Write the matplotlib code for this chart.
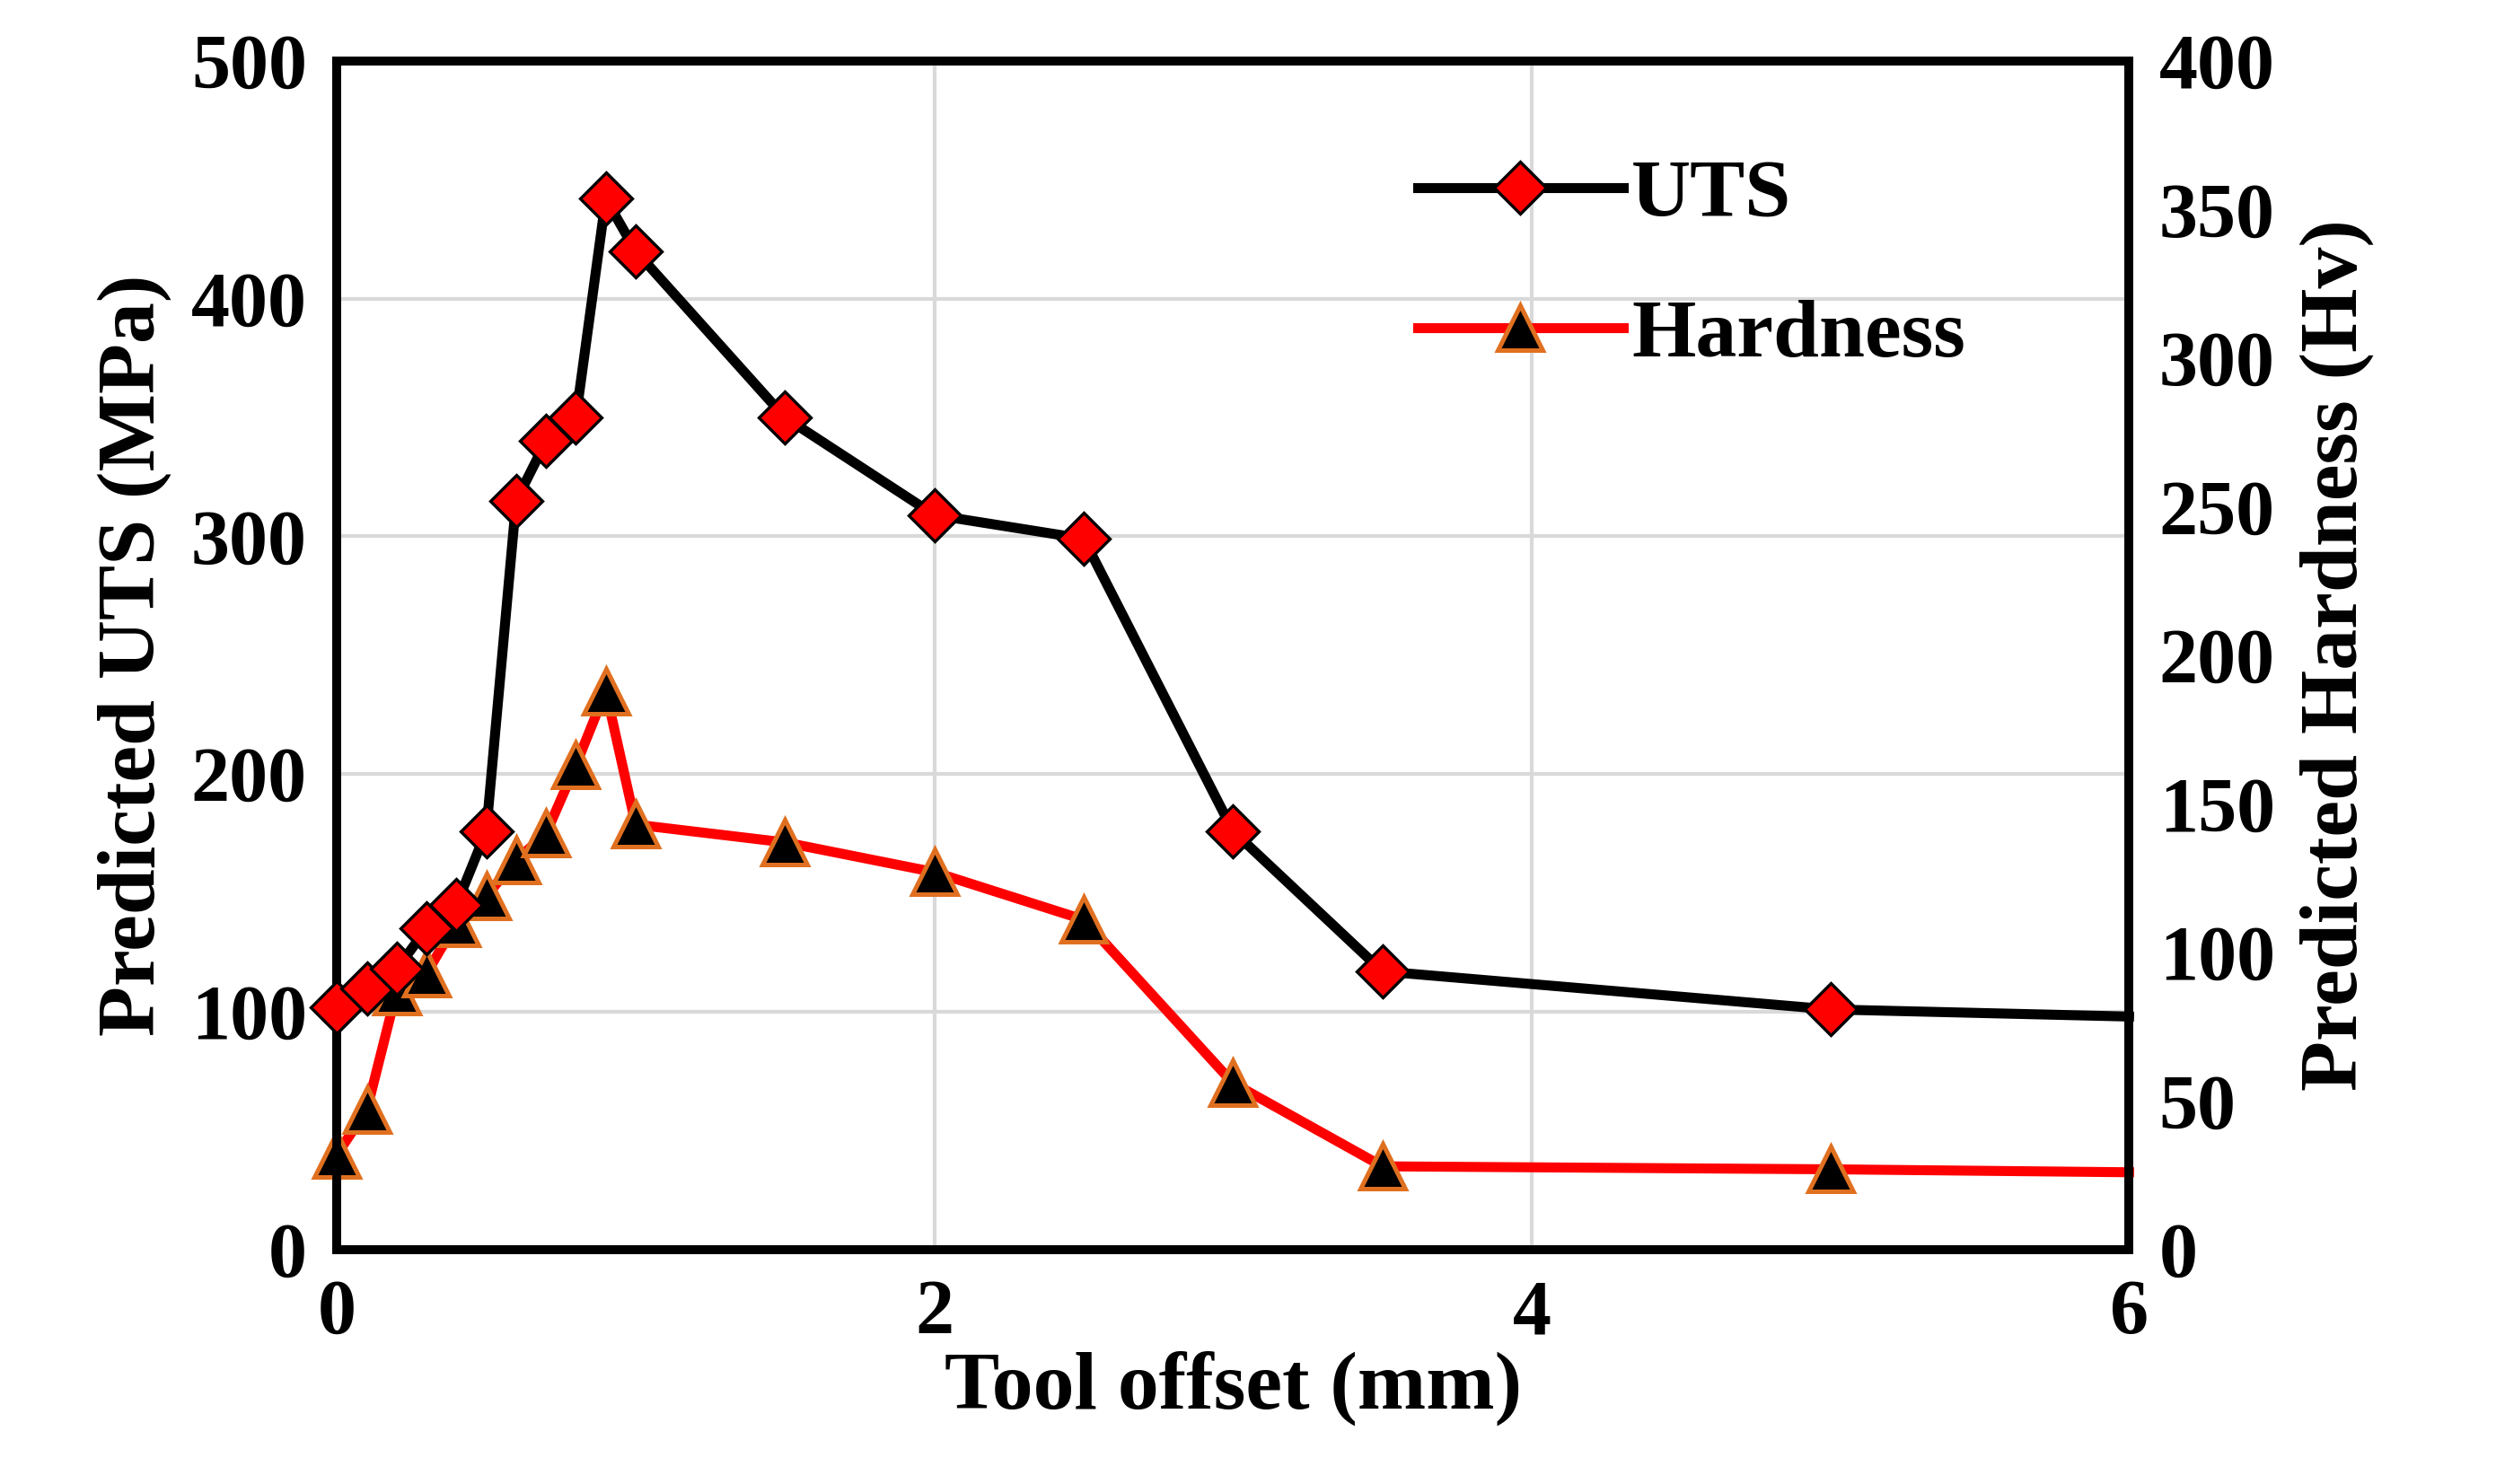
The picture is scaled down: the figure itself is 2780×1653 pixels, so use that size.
import matplotlib
matplotlib.use("Agg")
import matplotlib.pyplot as plt

plt.rcParams['font.family'] = ['Liberation Serif', 'DejaVu Serif']
plt.rcParams['font.weight'] = 'bold'

offset = [0, 0.1, 0.2, 0.3, 0.4, 0.5, 0.6, 0.7, 0.8, 0.9, 1.0, 1.5, 2, 2.5, 3, 3.5, 5, 6]
uts = [102, 110, 118, 135, 145, 176, 315, 340, 350, 442, 420, 350, 309, 299, 176, 117, 101, 98]
hardness = [32, 47, 87, 93, 110, 119, 131, 140, 163, 188, 143, 137, 127, 111, 56, 28, 27, 26]

fig = plt.figure(figsize=(13.9, 8.265), dpi=200)
ax = fig.add_axes([0.135, 0.158, 0.718, 0.801])
ax2 = ax.twinx()

l1, = ax.plot(offset, uts, color='black', lw=4, marker='D', ms=15,
              mfc='red', mec='black', mew=1.2, markevery=list(range(len(offset) - 1)),
              label='UTS', zorder=4, clip_on=False)
l2, = ax2.plot(offset, hardness, color='red', lw=4, marker='^', ms=18,
               mfc='black', mec='#e07020', mew=1.8, markevery=list(range(len(offset) - 1)),
               label='Hardness', zorder=3, clip_on=False)

ax.set_xlim(0, 6)
ax.set_ylim(0, 500)
ax2.set_ylim(0, 400)
ax.set_xticks([0, 2, 4, 6])
ax.set_yticks(range(0, 501, 100))
ax2.set_yticks(range(0, 401, 50))

for a in (ax, ax2):
    a.tick_params(labelsize=31, length=0, pad=12)
    for s in a.spines.values():
        s.set_linewidth(3.5)
        s.set_color('black')

ax.set_xlabel('Tool offset (mm)', fontsize=33, fontweight='bold', labelpad=0)
ax.set_ylabel('Predicted UTS (MPa)', fontsize=33, fontweight='bold', labelpad=8)
ax2.set_ylabel('Predicted Hardness (Hv)', fontsize=33, fontweight='bold', labelpad=10)

ax2.set_zorder(ax.get_zorder() - 1)
ax.patch.set_visible(False)
for x in [2, 4]:
    ax2.axvline(x, color='#d9d9d9', lw=1.5, zorder=0)
for y in range(100, 500, 100):
    ax2.axhline(y * 0.8, color='#d9d9d9', lw=1.5, zorder=0)

ax.legend([l1, l2], ['UTS', 'Hardness'], loc='upper right', bbox_to_anchor=(0.95, 0.98),
          frameon=False, handlelength=2.5, handletextpad=0.1, labelspacing=0.8,
          prop={'size': 33, 'weight': 'bold'})

fig.savefig('out.png', dpi=200)
